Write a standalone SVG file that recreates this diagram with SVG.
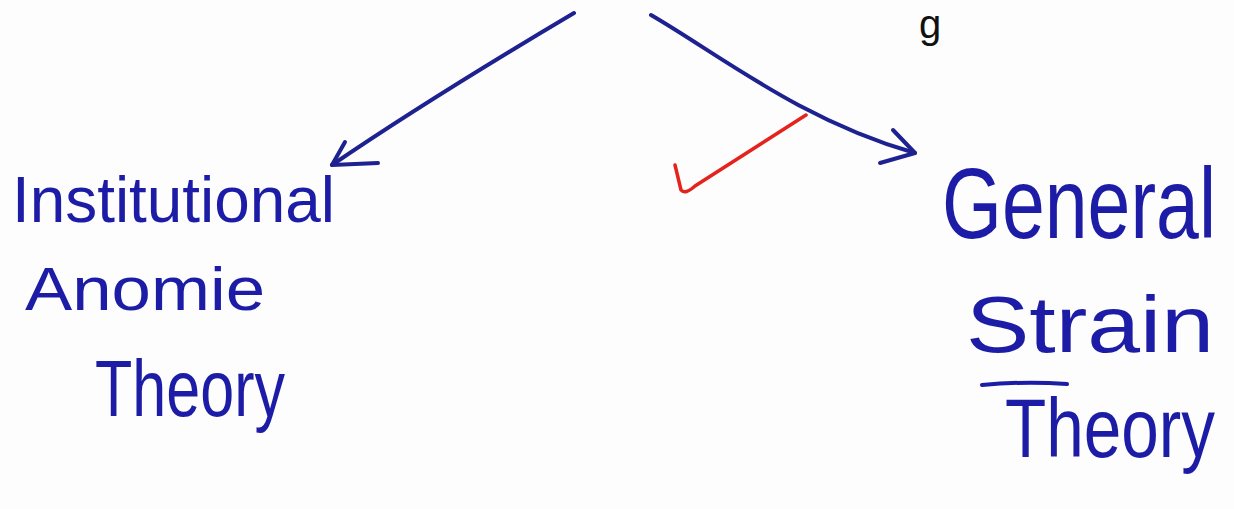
<svg xmlns="http://www.w3.org/2000/svg" width="1234" height="509" viewBox="0 0 1234 509">
<style>
.bg{fill:#fdfdfd}
.lbl{font-family:"Liberation Sans",Arial,sans-serif;fill:#1c1ca6}
.edge{fill:none;stroke:#1e2290;stroke-width:4;stroke-linecap:round;stroke-linejoin:round}
.check{fill:none;stroke:#e4231d;stroke-width:3.5;stroke-linecap:round;stroke-linejoin:round}
</style>
<rect class="bg" x="0" y="0" width="1234" height="509"/>
<g id="top-fragment">
<text x="919" y="38" font-family="Liberation Sans, Arial, sans-serif" font-size="40" fill="#111">g</text>
</g>
<g id="connectors">
<path class="edge" d="M574,13 C520,45 420,105 332,165"/>
<path class="edge" d="M345,142 L332,165 L378,163"/>
<path class="edge" d="M651,15 C720,55 800,120 915,153"/>
<path class="edge" d="M893,130 L915,153 L880,163"/>
</g>
<g id="check-mark">
<path class="check" d="M675,165 L681,190 Q685,195 695,186 L806,115"/>
</g>
<g id="node-institutional-anomie">
<text class="lbl" x="12" y="222" font-size="64" textLength="323" lengthAdjust="spacingAndGlyphs">Institutional</text>
<text class="lbl" x="25" y="310" font-size="62" textLength="240" lengthAdjust="spacingAndGlyphs">Anomie</text>
<text class="lbl" x="95" y="416" font-size="80" textLength="190" lengthAdjust="spacingAndGlyphs">Theory</text>
</g>
<g id="node-general-strain">
<text class="lbl" transform="translate(942,238) scale(1,1.22)" x="0" y="0" font-size="82" textLength="274" lengthAdjust="spacingAndGlyphs">General</text>
<text class="lbl" x="966" y="352" font-size="80" textLength="248" lengthAdjust="spacingAndGlyphs">Strain</text>
<path d="M982,385 Q1025,381 1067,384" fill="none" stroke="#1c1ca6" stroke-width="4" stroke-linecap="round"/>
<text class="lbl" transform="translate(1005,457) scale(1,1.2)" x="0" y="0" font-size="70" textLength="210" lengthAdjust="spacingAndGlyphs">Theory</text>
</g>
</svg>
